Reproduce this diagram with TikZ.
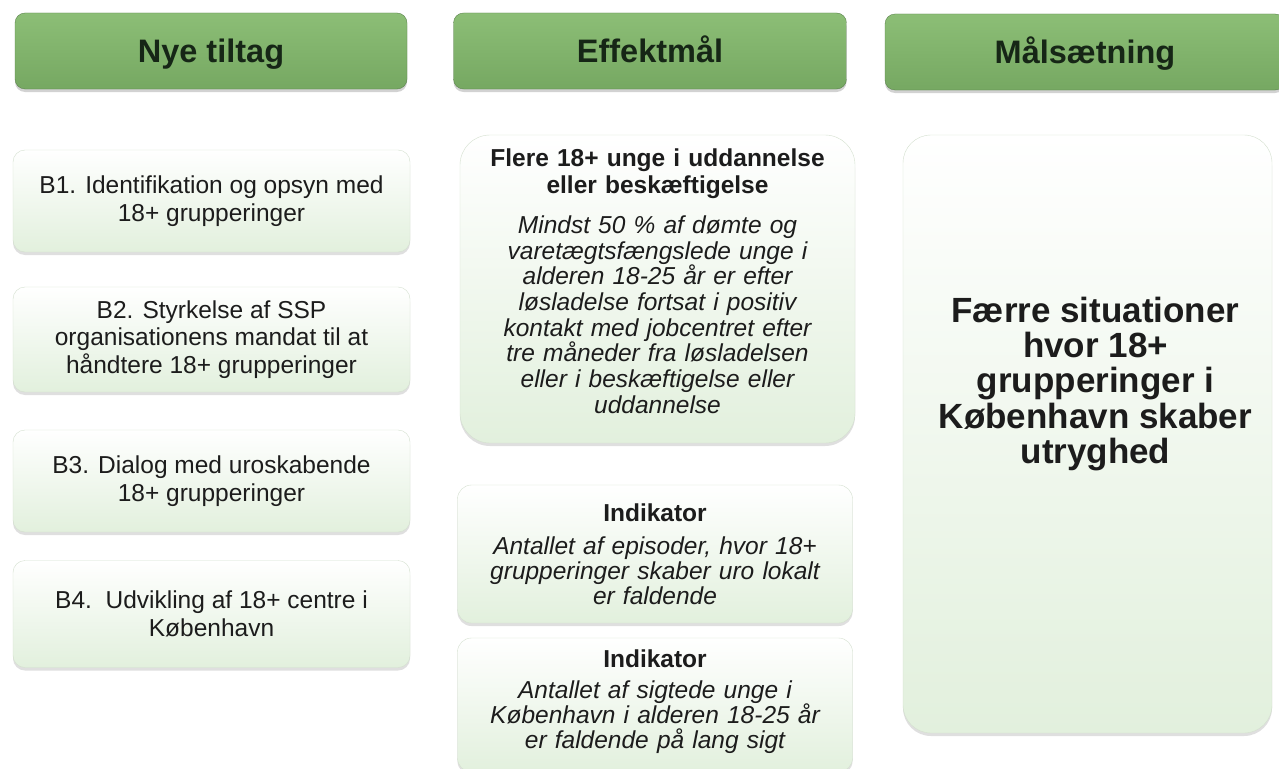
\documentclass[tikz,border=0pt]{standalone}
\usepackage{fontspec}
\setmainfont{Liberation Sans}
\usetikzlibrary{shadows}

\definecolor{headtop}{RGB}{140,190,118}
\definecolor{headbot}{RGB}{118,168,98}
\definecolor{headedge}{RGB}{92,132,78}
\definecolor{headink}{RGB}{22,38,22}
\definecolor{palegreen}{RGB}{226,240,221}
\definecolor{boxedge}{RGB}{212,224,207}
\definecolor{ink}{RGB}{28,28,28}

\begin{document}
\begin{tikzpicture}[x=1pt,y=-1pt]

      \clip (0,0) rectangle (1279,768);
      \fill[white] (0,0) rectangle (1279,768);

      % overskrifter
      \begin{scope}[every node/.style={draw=headedge,rounded corners=10pt,top color=headtop,bottom color=headbot,
          minimum height=76pt,text height=23.3pt,text depth=0pt,text=headink,font=\fontsize{32.5}{36}\selectfont\bfseries,
          drop shadow={shadow xshift=0pt,shadow yshift=-3pt,opacity=.35}}]
        \node[minimum width=392pt] (tiltag) at (211,51) {Nye tiltag};
        \node[minimum width=393pt] (effekt) at (650,51) {Effektmål};
        \node[minimum width=400pt] (maalhead) at (1085,52) {Målsætning};
      \end{scope}

      % bokse
      \begin{scope}[every node/.style={draw=boxedge,top color=white,bottom color=palegreen,text=ink,
          align=center,font=\fontsize{24.5}{27.5}\selectfont,
          drop shadow={shadow xshift=0pt,shadow yshift=-3pt,opacity=.25}}]

        \begin{scope}[every node/.append style={rounded corners=12pt,minimum width=397pt}]
          \node[minimum height=102pt] (b1) at (211.5,201) {B1. Identifikation og opsyn med\\18+ grupperinger};
          \node[minimum height=105pt] (b2) at (211.5,339.5) {B2. Styrkelse af SSP\\organisationens mandat til at\\håndtere 18+ grupperinger};
          \node[minimum height=102pt] (b3) at (211.5,481) {B3. Dialog med uroskabende\\18+ grupperinger};
          \node[minimum height=107pt] (b4) at (211.5,614) {B4.\ \ Udvikling af 18+ centre i\\København};
        \end{scope}

        \begin{scope}[every node/.append style={minimum width=395pt,text width=375pt}]
          \node[rounded corners=30pt,minimum height=308pt] (flere) at (657.5,289)
            {{\bfseries Flere 18+ unge i uddannelse\\eller beskæftigelse}\\[14pt]
             {\itshape\fontsize{24.5}{25.7}\selectfont Mindst 50 \% af dømte og\\varetægtsfængslede unge i\\alderen 18-25 år er efter\\løsladelse fortsat i positiv\\kontakt med jobcentret efter\\tre måneder fra løsladelsen\\eller i beskæftigelse eller\\uddannelse\par}\vspace{16pt}};
          \node[rounded corners=14pt,minimum height=138pt] (ind1) at (655,554)
            {{\bfseries Indikator}\\[8pt]
             {\itshape\fontsize{24.5}{25}\selectfont Antallet af episoder, hvor 18+\\grupperinger skaber uro lokalt\\er faldende\par}};
          \node[rounded corners=14pt,minimum height=134pt] (ind2) at (655,705)
            {{\bfseries Indikator}\\[6pt]
             {\itshape\fontsize{24.5}{25}\selectfont Antallet af sigtede unge i\\København i alderen 18-25 år\\er faldende på lang sigt\par}\vspace{6pt}};
        \end{scope}

        \node[rounded corners=28pt,minimum width=369pt,minimum height=598pt] (maal) at (1087.5,434) {};
      \end{scope}

      \node[align=center,text=ink,font=\fontsize{35}{35.3}\selectfont\bfseries] (maaltekst)
        at ([xshift=8pt,yshift=50pt]maal.center)
        {Færre situationer\\hvor 18+\\grupperinger i\\København skaber\\utryghed};

\end{tikzpicture}
\end{document}
